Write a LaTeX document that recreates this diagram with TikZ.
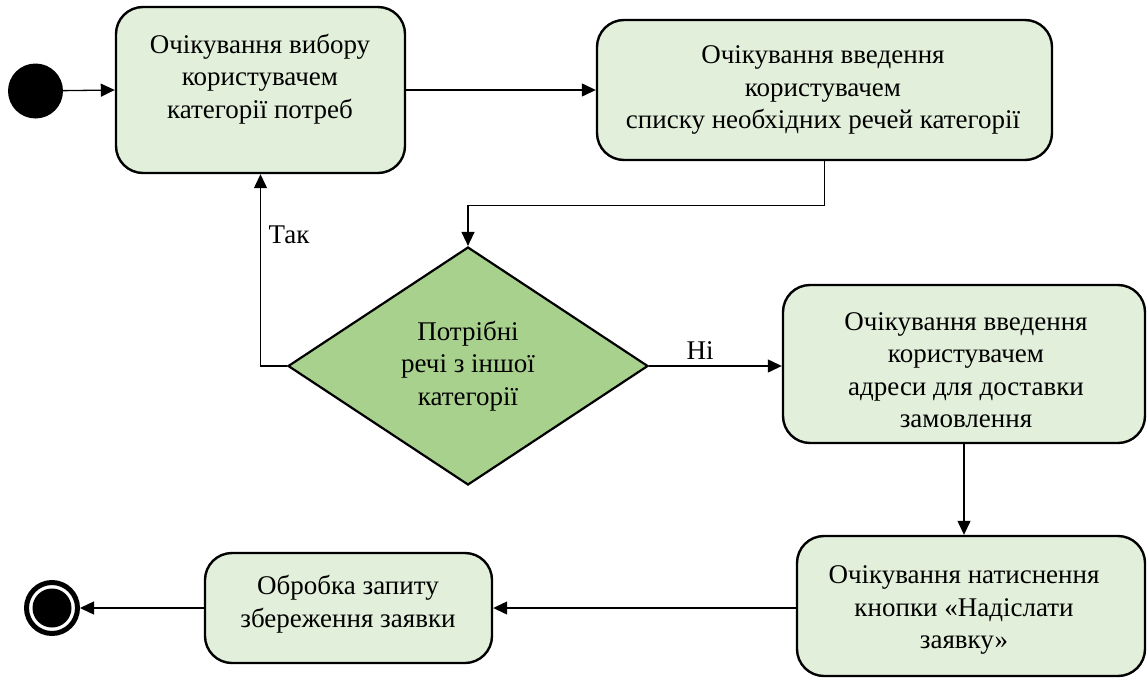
\documentclass[tikz,border=0pt]{standalone}
\usepackage{fontspec}
\setmainfont{Liberation Serif}
\usetikzlibrary{shapes.geometric,arrows.meta}
\definecolor{stateFill}{RGB}{226,239,218}
\definecolor{decFill}{RGB}{169,209,142}
\tikzset{
  state/.style={draw=black, line width=2.4pt, fill=stateFill, rounded corners=27pt,
    inner sep=0pt},
  txt/.style={align=center, font=\fontsize{27}{32.5}\selectfont, inner sep=0pt},
  decision/.style={draw=black, line width=2.2pt, fill=decFill, shape=diamond, inner sep=0pt},
  flow/.style={line width=1.3pt, -{Triangle[length=14pt,width=13pt]}},
  lbl/.style={font=\fontsize{27}{32}\selectfont, inner sep=0pt}
}
\begin{document}
\begin{tikzpicture}[x=1pt,y=-1pt]
\useasboundingbox (0,0) rectangle (1147,677);

% initial and final states
\node[circle, fill=black, minimum size=55pt, inner sep=0pt] (start) at (35.5,91) {};
\node[circle, draw=black, line width=5pt, minimum size=51pt, inner sep=0pt] (stop) at (52,608) {};
\node[circle, fill=black, minimum size=39pt, inner sep=0pt] (stopdot) at (52,608) {};

% action states
\node[state, minimum width=289pt, minimum height=166pt] (s1) at (260.5,90) {};
\node[txt] (t1) at (260,79) {Очікування вибору\\користувачем\\категорії потреб};

\node[state, minimum width=455pt, minimum height=140pt] (s2) at (824.5,90) {};
\node[txt] (t2) at (823,90) {Очікування введення\\користувачем\\списку необхідних речей категорії};

\node[decision, minimum width=360pt, minimum height=238pt] (dec) at (468,366) {};
\node[txt] (td) at (468,366) {Потрібні\\речі з іншої\\категорії};

\node[state, minimum width=362pt, minimum height=158pt] (s3) at (964,364) {};
\node[txt] (t3) at (966,370) {Очікування введення\\користувачем\\адреси для доставки\\замовлення};

\node[state, minimum width=348pt, minimum height=140pt] (s4) at (971,606) {};
\node[txt] (t4) at (964,610) {Очікування натиснення\\кнопки «Надіслати\\заявку»};

\node[state, minimum width=287pt, minimum height=110pt] (s5) at (348.5,608) {};
\node[txt] (t5) at (348,604) {Обробка запиту\\збереження заявки};

% transitions
\draw[flow] (start) -- (s1.west);
\draw[flow] (s1.east) -- (s2.west);
\draw[flow] (s2.south) -- ++(0,44) -| (dec.north);
\draw[flow] (dec.west) -| (s1.south);
\draw[flow] (dec.east) -- (dec.east -| s3.west);
\draw[flow] (s3.south) -- (s3.south |- s4.north);
\draw[flow] (s4.west |- s5.east) -- (s5.east);
\draw[flow] (s5.west) -- (stop.east);

% guard labels
\node[lbl] (yes) at (289,235) {Так};
\node[lbl] (no) at (700,351) {Ні};
\end{tikzpicture}
\end{document}
